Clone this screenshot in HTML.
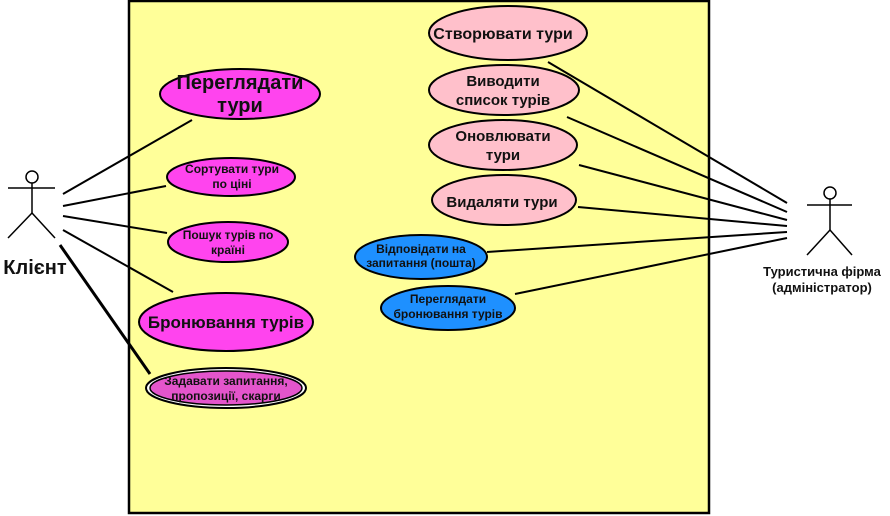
<!DOCTYPE html>
<html><head><meta charset="utf-8"><style>
html,body{margin:0;padding:0;background:#fff;}
svg{display:block;}
text{font-family:"Liberation Sans","DejaVu Sans",sans-serif;font-weight:bold;fill:#111;text-anchor:middle;}
</style></head><body>
<svg width="890" height="516" viewBox="0 0 890 516" xmlns="http://www.w3.org/2000/svg">
<rect x="129" y="1" width="580" height="512" fill="#ffff99" stroke="#000" stroke-width="2.5"/>
<g stroke="#000" stroke-width="2" fill="none">
<line x1="63" y1="194" x2="192" y2="120"/>
<line x1="63" y1="206" x2="166" y2="186"/>
<line x1="63" y1="216" x2="167" y2="233"/>
<line x1="63" y1="230" x2="173" y2="292"/>
<line x1="60" y1="245" x2="150" y2="374" stroke-width="3"/>
<line x1="548" y1="62" x2="787" y2="203"/>
<line x1="567" y1="117" x2="787" y2="212"/>
<line x1="579" y1="165" x2="787" y2="220"/>
<line x1="578" y1="207" x2="787" y2="226"/>
<line x1="487" y1="252" x2="787" y2="232"/>
<line x1="515" y1="294" x2="787" y2="238"/>
</g>
<g stroke="#000" stroke-width="2">
<ellipse cx="240" cy="94" rx="80" ry="25" fill="#ff44ee"/>
<ellipse cx="231" cy="177" rx="64" ry="19" fill="#ff44ee"/>
<ellipse cx="228" cy="242" rx="60" ry="20" fill="#ff44ee"/>
<ellipse cx="226" cy="322" rx="87" ry="29" fill="#ff44ee"/>
<ellipse cx="226" cy="388" rx="80" ry="20" fill="#fff"/>
<ellipse cx="226" cy="388" rx="76" ry="17" fill="#e455cc" stroke-width="1.5"/>
<ellipse cx="508" cy="33" rx="79" ry="27" fill="#ffc0cb"/>
<ellipse cx="504" cy="90" rx="75" ry="25" fill="#ffc0cb"/>
<ellipse cx="503" cy="145" rx="74" ry="25" fill="#ffc0cb"/>
<ellipse cx="504" cy="200" rx="72" ry="25" fill="#ffc0cb"/>
<ellipse cx="421" cy="257" rx="66" ry="22" fill="#1e90ff"/>
<ellipse cx="448" cy="308" rx="67" ry="22" fill="#1e90ff"/>
</g>
<text x="240" y="89" font-size="20">Переглядати</text>
<text x="240" y="112" font-size="20">тури</text>
<text x="232" y="173" font-size="12">Сортувати тури</text>
<text x="232" y="188" font-size="12">по ціні</text>
<text x="228" y="239" font-size="12">Пошук турів по</text>
<text x="228" y="254" font-size="12">країні</text>
<text x="226" y="328" font-size="17">Бронювання турів</text>
<text x="226" y="385" font-size="12">Задавати запитання,</text>
<text x="226" y="400" font-size="12">пропозиції, скарги</text>
<text x="503" y="39" font-size="16">Створювати тури</text>
<text x="503" y="86" font-size="15">Виводити</text>
<text x="503" y="105" font-size="15">список турів</text>
<text x="503" y="141" font-size="15">Оновлювати</text>
<text x="503" y="160" font-size="15">тури</text>
<text x="502" y="207" font-size="15">Видаляти тури</text>
<text x="421" y="253" font-size="12" font-weight="normal">Відповідати на</text>
<text x="421" y="267" font-size="12" font-weight="normal">запитання (пошта)</text>
<text x="448" y="303" font-size="12">Переглядати</text>
<text x="448" y="318" font-size="12">бронювання турів</text>
<g stroke="#000" stroke-width="1.5" fill="none">
<circle cx="32" cy="177" r="6"/>
<line x1="8" y1="188" x2="55" y2="188"/>
<line x1="32" y1="183" x2="32" y2="213"/>
<line x1="32" y1="213" x2="8" y2="238"/>
<line x1="32" y1="213" x2="55" y2="238"/>
<circle cx="830" cy="193" r="6"/>
<line x1="807" y1="205" x2="852" y2="205"/>
<line x1="830" y1="199" x2="830" y2="230"/>
<line x1="830" y1="230" x2="807" y2="255"/>
<line x1="830" y1="230" x2="852" y2="255"/>
</g>
<text x="35" y="274" font-size="20">Клієнт</text>
<text x="822" y="276" font-size="13">Туристична фірма</text>
<text x="822" y="292" font-size="13">(адміністратор)</text>
</svg>
</body></html>
